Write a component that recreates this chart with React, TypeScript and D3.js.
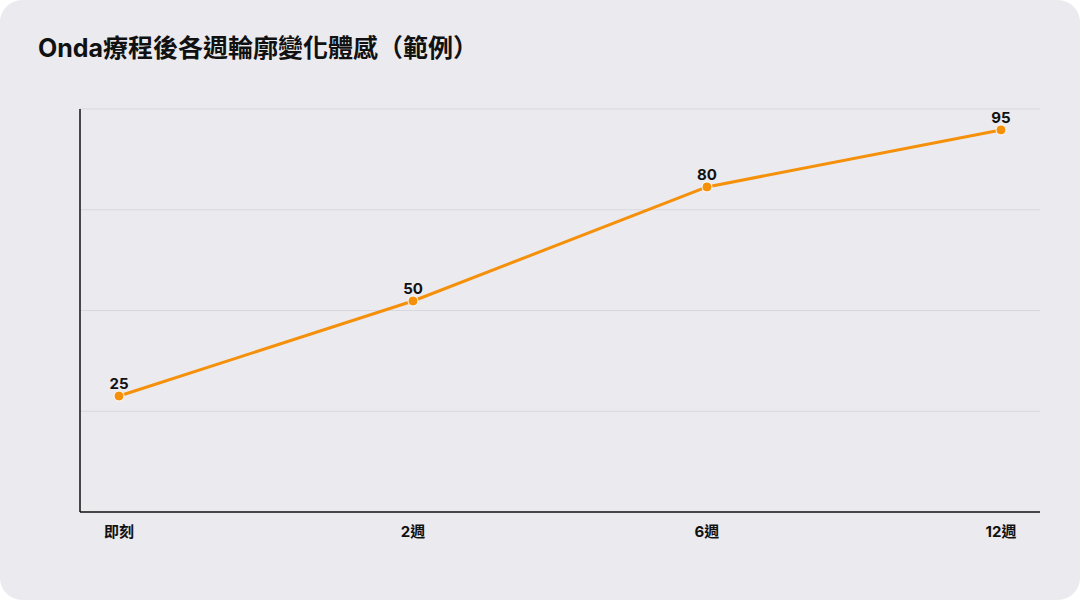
import React from "react";
import * as d3 from "d3";

const title = "Onda療程後各週輪廓變化體感（範例）";
const categories = ["即刻", "2週", "6週", "12週"];
const values = [25, 50, 80, 95];
const yDomain: [number, number] = [-5.5, 100.5];
const gridCount = 4;

const W = 1080;
const H = 600;
const margin = { left: 80, right: 40, top: 109, bottom: 88 };
const FONT = "Inter, 'Noto Sans CJK TC', 'Noto Sans', sans-serif";
const ORANGE = "#f5900a";

export default function App() {
  const x = d3
    .scalePoint<string>()
    .domain(categories)
    .range([margin.left, W - margin.right])
    .padding(0.1327);
  const y = d3.scaleLinear().domain(yDomain).range([H - margin.bottom, margin.top]);
  const gridVals = d3.range(gridCount + 1).map((i) => yDomain[0] + (i * (yDomain[1] - yDomain[0])) / gridCount);
  const line = d3
    .line<number>()
    .x((_, i) => x(categories[i]) as number)
    .y((d) => y(d));

  return (
    <svg
      width={W}
      height={H}
      style={{ position: "absolute", left: 0, top: 0, display: "block" }}
      fontFamily={FONT}
    >
      <rect x={0} y={0} width={W} height={H} fill="#ffffff" />
      <rect x={0} y={0} width={W} height={H} rx={22} ry={22} fill="#ebeaef" />
      <text x={38} y={57} fontSize={25} fontWeight={700} fill="#111">
        {title}
      </text>
      {gridVals.slice(1).map((g, i) => (
        <line
          key={i}
          x1={margin.left}
          x2={W - margin.right}
          y1={y(g)}
          y2={y(g)}
          stroke="#d8d7dd"
          strokeWidth={1}
        />
      ))}
      <line
        x1={margin.left}
        x2={margin.left}
        y1={y(yDomain[1])}
        y2={y(yDomain[0])}
        stroke="#111"
        strokeWidth={1.5}
      />
      <line
        x1={margin.left}
        x2={W - margin.right}
        y1={y(yDomain[0])}
        y2={y(yDomain[0])}
        stroke="#111"
        strokeWidth={1.5}
      />
      {categories.map((c) => (
        <text
          key={c}
          x={x(c)}
          y={537}
          textAnchor="middle"
          fontSize={15}
          fontWeight={700}
          fill="#111"
        >
          {c}
        </text>
      ))}
      <path d={line(values) || ""} fill="none" stroke={ORANGE} strokeWidth={3} strokeLinejoin="round" />
      {values.map((v, i) => (
        <g key={i}>
          <circle cx={x(categories[i])} cy={y(v)} r={5} fill={ORANGE} stroke="#ffffff" strokeWidth={1} />
          <text
            x={x(categories[i])}
            y={y(v) - 7}
            textAnchor="middle"
            fontSize={15}
            fontWeight={700}
            fill="#111"
          >
            {v}
          </text>
        </g>
      ))}
    </svg>
  );
}
